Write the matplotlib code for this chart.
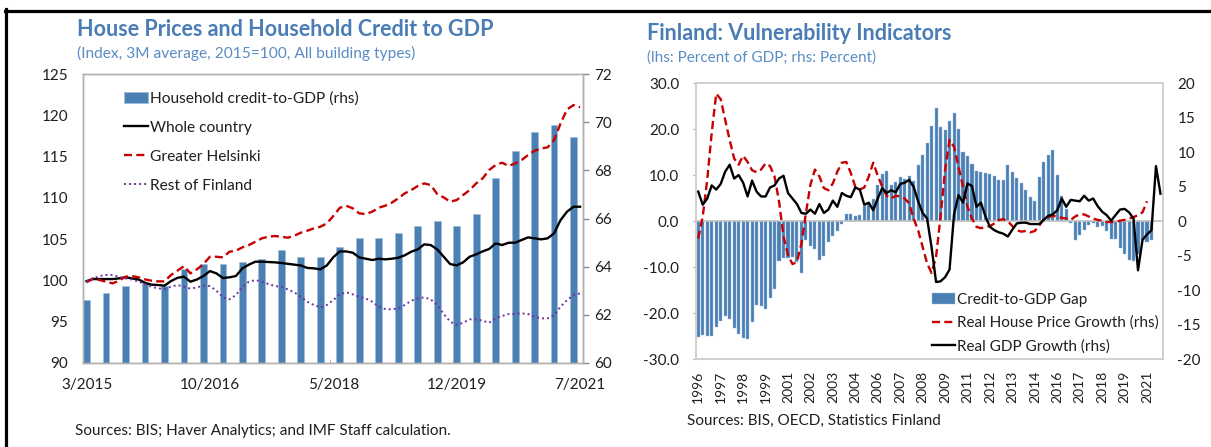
import numpy as np
import matplotlib.pyplot as plt
from matplotlib.lines import Line2D

plt.rcParams['font.family'] = ['Lato', 'DejaVu Sans']
plt.rcParams['axes.unicode_minus'] = False

# ---- left panel data (monthly, 3/2015 .. 7/2021) ----
x_labels_left = ['3/2015', '10/2016', '5/2018', '12/2019', '7/2021']
credit_to_gdp = [62.6, 62.9, 63.2, 63.3, 63.2, 63.9, 64.1, 64.1, 64.2, 64.3,
                 64.7, 64.4, 64.4, 64.8, 65.2, 65.2, 65.4, 65.7, 65.9, 65.7,
                 66.2, 67.7, 68.8, 69.6, 69.9, 69.4]
whole_country = [99.9, 100.15, 100.15, 100.15, 100.15, 100.23, 100.36, 100.23, 100.1, 99.7,
                 99.47, 99.43, 99.35, 99.9, 100.3, 100.44, 99.83, 100.1, 100.52, 101.12,
                 100.84, 100.28, 100.36, 100.52, 101.45, 101.9, 102.26, 102.26, 102.22, 102.18,
                 102.1, 102.0, 101.9, 101.8, 101.5, 101.45, 101.33, 101.8, 102.8, 103.5,
                 103.5, 103.35, 102.78, 102.62, 102.46, 102.62, 102.54, 102.62, 102.74, 103.03,
                 103.47, 103.75, 104.36, 104.28, 103.75, 102.86, 101.97, 101.81, 102.18, 102.86,
                 103.15, 103.51, 103.8, 104.48, 104.28, 104.56, 104.56, 104.89, 105.21, 105.09,
                 104.97, 105.09, 105.7, 107.31, 108.33, 108.93, 108.93]
greater_helsinki = [99.75, 100.23, 100.03, 99.83, 99.63, 99.95, 100.44, 100.52, 100.36, 100.11,
                    99.95, 99.87, 99.87, 100.64, 101.17, 101.73, 100.84, 101.33, 101.97, 102.86,
                    102.86, 102.78, 103.47, 103.59, 104.0, 104.28, 104.68, 105.09, 105.29, 105.37,
                    105.29, 105.17, 105.41, 105.78, 106.02, 106.3, 106.5, 106.9, 107.8, 108.8,
                    109.05, 108.73, 108.12, 108.04, 108.33, 108.81, 109.05, 109.42, 109.94, 110.55,
                    110.95, 111.44, 111.76, 111.56, 110.47, 110.06, 109.54, 109.74, 110.35, 110.95,
                    111.76, 112.37, 113.38, 113.99, 114.27, 113.87, 114.19, 114.6, 115.2, 115.73,
                    116.0, 116.13, 117.02, 119.04, 120.74, 121.27, 120.99]
rest_of_finland = [99.83, 100.23, 100.52, 100.64, 100.64, 100.44, 100.23, 100.1, 99.83, 99.55,
                   99.22, 99.02, 98.94, 99.22, 99.43, 99.22, 98.98, 99.14, 99.35, 99.3,
                   98.74, 97.93, 97.69, 98.21, 99.22, 99.83, 100.03, 99.83, 99.55, 99.3,
                   99.22, 98.9, 98.54, 98.0, 97.4, 97.0, 96.72, 97.0, 97.6, 98.3,
                   98.54, 98.29, 98.0, 97.8, 97.4, 96.8, 96.51, 96.47, 96.6, 97.0,
                   97.52, 97.8, 97.93, 97.69, 97.0, 95.91, 94.98, 94.57, 94.85, 95.26,
                   95.26, 95.1, 94.85, 95.38, 95.66, 95.91, 95.91, 95.99, 95.91, 95.58,
                   95.38, 95.38, 95.78, 96.8, 97.6, 98.21, 98.41]

# ---- right panel data (quarterly, 1996Q1 .. 2021Q4) ----
year_labels = ['1996', '1997', '1998', '1999', '2001', '2002', '2003', '2004', '2006', '2007',
               '2008', '2009', '2011', '2012', '2013', '2014', '2016', '2017', '2018', '2019', '2021']
credit_gap = [-25.1, -24.7, -24.9, -24.9, -22.9, -21.6, -20.6, -21.2, -23.1, -24.5,
              -25.3, -25.5, -21.8, -18.3, -18.4, -19.1, -16.6, -14.7, -8.6, -8.0,
              -8.0, -7.8, -8.9, -11.2, -4.1, -5.4, -6.1, -8.4, -7.5, -4.4,
              -3.3, -2.0, -0.6, 1.6, 1.5, 1.2, 1.3, 3.4, 3.9, 4.9,
              7.9, 10.3, 10.9, 8.0, 8.5, 9.7, 9.3, 9.9, 8.8, 12.2,
              14.4, 17.1, 20.7, 24.6, 20.4, 19.9, 21.9, 23.5, 20.0, 15.1,
              14.2, 12.5, 11.0, 10.8, 10.5, 10.2, 9.8, 9.0, 9.0, 12.2,
              10.8, 9.5, 8.3, 6.8, 5.2, 4.5, 9.7, 12.8, 14.4, 15.4,
              10.1, 5.4, 2.6, -0.4, -4.1, -3.0, -1.8, -0.7, -0.4, -1.2,
              -1.0, -2.0, -3.9, -3.9, -5.9, -7.0, -8.4, -8.6, -7.0, -4.1,
              -4.6, -4.1]
house_price_growth = [-2.5, 0.7, 6.0, 12.8, 18.5, 17.7, 14.7, 11.8, 9.1, 8.2,
                      9.5, 8.6, 7.4, 7.1, 7.5, 8.4, 8.0, 6.5, 2.9, -2.2,
                      -4.9, -6.2, -5.9, -3.2, 1.2, 5.3, 7.5, 6.5, 4.8, 4.5,
                      5.5, 7.2, 8.5, 8.6, 7.0, 5.0, 4.6, 4.9, 6.5, 8.5,
                      6.6, 5.0, 3.7, 3.3, 3.7, 3.6, 3.3, 2.6, 0.4, -1.3,
                      -3.7, -6.1, -7.5, -5.1, 0.7, 7.4, 11.8, 10.8, 7.9, 5.0,
                      2.1, 0.4, -0.8, -1.0, -0.8, -0.7, -0.3, 0.2, 0.3, 0.0,
                      -0.7, -1.3, -1.5, -1.4, -1.6, -1.4, -0.6, 0.3, 0.6, 0.8,
                      0.7, 0.5, 0.4, 0.2, 0.7, 1.0, 1.0, 0.7, 0.4, 0.2,
                      0.1, -0.1, -0.1, -0.1, 0.1, 0.2, 0.4, 0.6, 0.9, 1.3,
                      2.9]
gdp_growth = [4.3, 2.4, 3.3, 5.2, 4.6, 5.4, 7.2, 8.2, 6.2, 6.7,
              5.6, 3.6, 5.9, 4.3, 3.6, 3.6, 4.9, 5.2, 6.2, 6.6,
              4.1, 3.3, 2.5, 1.2, 1.1, 1.7, 1.1, 2.5, 1.2, 1.7,
              3.0, 2.1, 4.1, 3.7, 3.5, 4.9, 4.6, 2.4, 2.7, 1.6,
              3.3, 4.8, 4.1, 4.5, 4.2, 5.4, 5.6, 6.0, 5.0, 2.9,
              1.2, 0.4, -3.8, -8.8, -8.7, -8.1, -7.0, 1.0, 3.8, 2.7,
              5.5, 5.1, 2.1, 2.7, 0.7, -0.8, -1.3, -1.6, -1.8, -2.2,
              -1.2, -0.3, -0.2, -0.2, -0.4, -0.4, -0.4, 0.2, 0.8, 1.0,
              1.6, 3.3, 2.1, 3.1, 3.0, 2.9, 3.7, 3.0, 3.3, 2.2,
              1.4, 0.9, 0.1, 0.9, 1.7, 1.8, 1.3, 0.4, -7.1, -2.7,
              -1.9, -1.3, 8.0, 4.0]

blue = '#4b80b5'
red = '#c80000'
purple = '#7030a0'
title_col = '#4a7db5'
sub_col = '#5a8cc4'
txt = '#1f1f1f'

W, H = 1211, 447
fig = plt.figure(figsize=(W / 100, H / 100), dpi=100)


def px_box(left, top, right, bottom):
    return [left / W, 1 - bottom / H, (right - left) / W, (bottom - top) / H]


# outer frame (left and top only)
fig.add_artist(Line2D([6 / W, 6 / W], [0, 1 - 9 / H], color='black', lw=2.3))
fig.add_artist(Line2D([5 / W, 1], [1 - 10.5 / H, 1 - 10.5 / H], color='black', lw=2.3))

# ================= left panel =================
axL = fig.add_axes(px_box(83.3, 74.3, 583.3, 362.7))
axLr = axL.twinx()
axL.set_zorder(axLr.get_zorder() + 1)
axL.patch.set_visible(False)

months = np.arange(len(whole_country))
quarters = np.arange(len(credit_to_gdp)) * 3
bars = axLr.bar(quarters, credit_to_gdp, width=1.05, color=blue, edgecolor='#9cbbd9',
                linewidth=0.4, label='Household credit-to-GDP (rhs)')
l1, = axL.plot(months, whole_country, color='black', lw=1.7, label='Whole country')
l2, = axL.plot(months, greater_helsinki, color=red, lw=1.7, ls=(0, (3.4, 1.8)),
               label='Greater Helsinki')
l3, = axL.plot(months, rest_of_finland, color=purple, lw=1.4, ls=(0, (1, 1.6)),
               label='Rest of Finland')

axL.set_xlim(-0.5, len(months) - 0.5)
axL.set_ylim(90, 125)
axL.set_yticks(np.arange(90, 126, 5))
axLr.set_ylim(60, 72)
axLr.set_yticks(np.arange(60, 73, 2))
axL.set_xticks(np.arange(0, 77, 19))
axL.set_xticklabels(x_labels_left)
axL.set_xticks(np.arange(18.5, 77, 19), minor=True)
axL.tick_params(axis='x', which='major', length=0, pad=11, labelsize=11, labelcolor=txt)
axL.tick_params(axis='x', which='minor', length=3, direction='in', color='#a6a6a6')
axL.tick_params(axis='y', length=0, pad=11, labelsize=11, labelcolor=txt)
axLr.tick_params(axis='y', length=4, width=1, color='#8c8c8c', pad=4, labelsize=11, labelcolor=txt)
for ax in (axL, axLr):
    for s in ax.spines.values():
        s.set_color('#b0b0b0')
        s.set_linewidth(1)
axLr.spines['right'].set_color('#8c8c8c')

axL.legend(handles=[bars, l1, l2, l3], loc='upper left', bbox_to_anchor=(0.082, 0.941),
           frameon=False, fontsize=11.2, handlelength=1.5, handletextpad=0.15,
           labelspacing=0.97, borderpad=0, borderaxespad=0, labelcolor=txt)

fig.text(77 / W, 1 - 29 / H, 'House Prices and Household Credit to GDP', fontsize=15.5,
         fontweight='bold', color=title_col, va='center', ha='left')
fig.text(77 / W, 1 - 53 / H, '(Index, 3M average, 2015=100, All building types)', fontsize=11.2,
         color=sub_col, va='center', ha='left')
fig.text(75 / W, 1 - 431 / H, 'Sources: BIS; Haver Analytics; and IMF Staff calculation.',
         fontsize=11, color=txt, va='center', ha='left')

# ================= right panel =================
axR = fig.add_axes(px_box(696, 83.3, 1162.7, 359.3))
axRr = axR.twinx()

qidx = np.arange(len(gdp_growth))
gap_bars = axR.bar(np.arange(len(credit_gap)), credit_gap, width=0.68, color=blue,
                   edgecolor='#9cbbd9', linewidth=0.3, label='Credit-to-GDP Gap')
axR.axhline(0, color='#c0c0c0', lw=1.2, zorder=1.5)
r1, = axRr.plot(np.arange(len(house_price_growth)), house_price_growth, color=red, lw=1.7,
                ls=(0, (3.4, 1.8)), label='Real House Price Growth (rhs)')
r2, = axRr.plot(qidx, gdp_growth, color='black', lw=1.7, label='Real GDP Growth (rhs)')

axR.set_xlim(-0.5, len(qidx) - 0.5)
axR.set_ylim(-30, 30)
axR.set_yticks(np.arange(-30, 31, 10))
axR.set_yticklabels(['%.1f' % v for v in np.arange(-30, 31, 10)])
axRr.set_ylim(-20, 20)
axRr.set_yticks(np.arange(-20, 21, 5))
axR.set_xticks(np.arange(0, 101, 5))
axR.set_xticklabels(year_labels, rotation=90)
axR.tick_params(axis='x', length=0, pad=8, labelsize=10, labelcolor=txt)
axR.tick_params(axis='y', length=2, color='#a6a6a6', pad=10, labelsize=11, labelcolor=txt)
axRr.tick_params(axis='y', length=0, pad=10.5, labelsize=11, labelcolor=txt)
for ax in (axR, axRr):
    for s in ax.spines.values():
        s.set_color('#d0d0d0')
        s.set_linewidth(1.4)

axRr.legend(handles=[gap_bars, r1, r2], loc='upper left', bbox_to_anchor=(0.505, 0.242),
            frameon=False, fontsize=11, handlelength=1.5, handletextpad=0.15,
            labelspacing=0.6, borderpad=0, borderaxespad=0, labelcolor=txt)

fig.text(647 / W, 1 - 34 / H, 'Finland: Vulnerability Indicators', fontsize=15.5,
         fontweight='bold', color=title_col, va='center', ha='left')
fig.text(647 / W, 1 - 58 / H, '(lhs: Percent of GDP; rhs: Percent)', fontsize=11,
         color=sub_col, va='center', ha='left')
fig.text(686.6 / W, 1 - 420.7 / H, 'Sources: BIS, OECD, Statistics Finland',
         fontsize=11, color=txt, va='center', ha='left')

fig.savefig('out.png', dpi=100)
